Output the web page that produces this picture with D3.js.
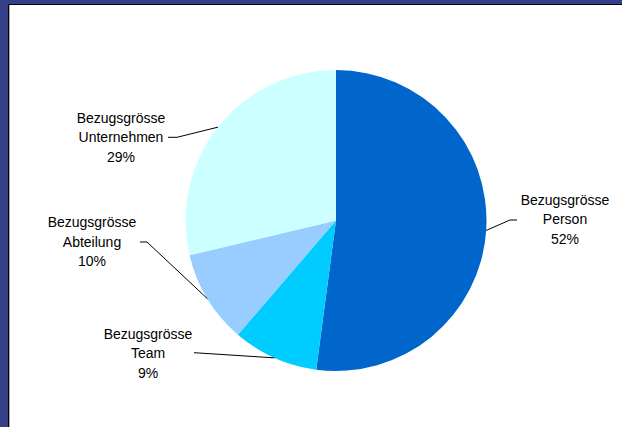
<!DOCTYPE html>
<html><head><meta charset="utf-8">
<script src="https://cdn.jsdelivr.net/npm/d3@7"></script>
<style>html,body{margin:0;padding:0;background:#fff;}svg{display:block;}</style>
</head><body>
<script>
const categories = ["Bezugsgrösse Person", "Bezugsgrösse Team", "Bezugsgrösse Abteilung", "Bezugsgrösse Unternehmen"];
const labelLines = [["Bezugsgrösse","Person"],["Bezugsgrösse","Team"],["Bezugsgrösse","Abteilung"],["Bezugsgrösse","Unternehmen"]];
const values = [52.1, 9.2, 10.0, 28.7];
const colors = ["#0066CC", "#00CCFF", "#99CCFF", "#CCFFFF"];

const W = 622, H = 427;
const svg = d3.select("body").append("svg").attr("width", W).attr("height", H);

// frame
svg.append("rect").attr("width", W).attr("height", H).attr("fill", "#333F88");
svg.append("rect").attr("x", 8).attr("y", 4).attr("width", W - 8).attr("height", H - 4).attr("fill", "#fff");
svg.append("line").attr("x1", 8).attr("x2", W).attr("y1", 4.5).attr("y2", 4.5).attr("stroke", "#000").attr("stroke-width", 1);
svg.append("line").attr("x1", 8.5).attr("x2", 8.5).attr("y1", 4).attr("y2", H).attr("stroke", "#000").attr("stroke-width", 1);
svg.append("line").attr("x1", 9.5).attr("x2", 9.5).attr("y1", 5).attr("y2", H).attr("stroke", "#aaa").attr("stroke-width", 1);

const cx = 336, cy = 220.5, r = 150.5;
const g = svg.append("g").attr("transform", `translate(${cx},${cy})`);
const pie = d3.pie().sort(null).value(d => d)(values);
const arc = d3.arc().innerRadius(0).outerRadius(r);
g.selectAll("path.slice").data(pie).join("path")
  .attr("class", "slice")
  .attr("d", arc)
  .attr("fill", (d, i) => colors[i]);

// label layout (positions relative to chart, not data)
const labelPos = [
  {x: 565, y: 200, elbow: [510, 220], end: [517, 220]},
  {x: 148, y: 334, elbow: null, end: [194, 352.7]},
  {x: 92,  y: 222.5, elbow: [147, 242], end: [140, 242]},
  {x: 121, y: 118, elbow: [177, 137.3], end: [168, 137.3]}
];
const lineH = 19.4;
pie.forEach((d, i) => {
  const a = (d.startAngle + d.endAngle) / 2;
  const px = cx + r * Math.sin(a), py = cy - r * Math.cos(a);
  const lp = labelPos[i];
  const pts = [[px, py]];
  if (lp.elbow) pts.push(lp.elbow);
  pts.push(lp.end);
  svg.append("path").attr("d", d3.line()(pts)).attr("fill", "none").attr("stroke", "#000").attr("stroke-width", 1);
  const t = svg.append("text").attr("text-anchor", "middle")
    .attr("font-family", "Liberation Sans, Arial, sans-serif").attr("font-size", 14).attr("fill", "#000");
  const lines = labelLines[i].concat([Math.round(d.data) + "%"]);
  lines.forEach((s, k) => {
    t.append("tspan").attr("x", lp.x).attr("y", lp.y + k * lineH).attr("dy", "0.35em").text(s);
  });
});
</script>
</body></html>
